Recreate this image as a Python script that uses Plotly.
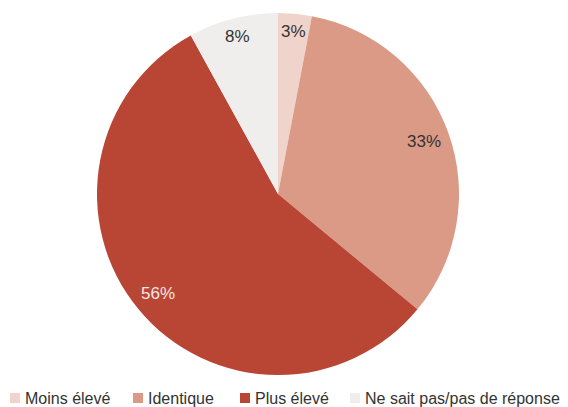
import math
import plotly.graph_objects as go

categories = ["Moins élevé", "Identique", "Plus élevé", "Ne sait pas/pas de réponse"]
values = [3, 33, 56, 8]
colors = ["#f0d4cb", "#da9a86", "#b94535", "#efeeed"]
text_colors = ["#333333", "#333333", "#f8e6e2", "#333333"]

W, H = 568, 407
cx, cy, r = 278, 194, 181
FONT = "Liberation Sans, Arial, sans-serif"

fig = go.Figure()
fig.add_trace(go.Pie(
    labels=categories,
    values=values,
    sort=False,
    direction="clockwise",
    rotation=0,
    marker=dict(colors=colors, line=dict(width=0)),
    textinfo="none",
    showlegend=False,
    hoverinfo="label+percent",
    domain=dict(x=[(cx - r) / W, (cx + r) / W], y=[1 - (cy + r) / H, 1 - (cy - r) / H]),
))

# slice labels placed near the rim, at each slice's mid-angle
total = sum(values)
cum = 0
for v, tc in zip(values, text_colors):
    mid = (cum + v / 2) / total * 2 * math.pi
    cum += v
    frac = 0.9 if v / total < 0.1 else 0.86
    px = cx + frac * r * math.sin(mid)
    py = cy - frac * r * math.cos(mid)
    fig.add_annotation(x=px / W, y=1 - py / H, xref="paper", yref="paper",
                       text=f"{v}%", showarrow=False, xanchor="center", yanchor="middle",
                       font=dict(family=FONT, size=17, color=tc))

# legend built from the categories
leg_x = [10, 133, 240, 350]
for name, col, x in zip(categories, colors, leg_x):
    fig.add_shape(type="rect", xref="paper", yref="paper",
                  x0=x / W, x1=(x + 10) / W, y0=1 - 403 / H, y1=1 - 393 / H,
                  fillcolor=col, line=dict(width=0))
    fig.add_annotation(x=(x + 13) / W, y=1 - 398 / H, xref="paper", yref="paper",
                       text=name, showarrow=False, xanchor="left", yanchor="middle",
                       font=dict(family=FONT, size=16, color="#333333"))

fig.update_layout(
    width=W, height=H,
    margin=dict(l=0, r=0, t=0, b=0),
    paper_bgcolor="white", plot_bgcolor="white",
)
fig.write_html("out.html")
